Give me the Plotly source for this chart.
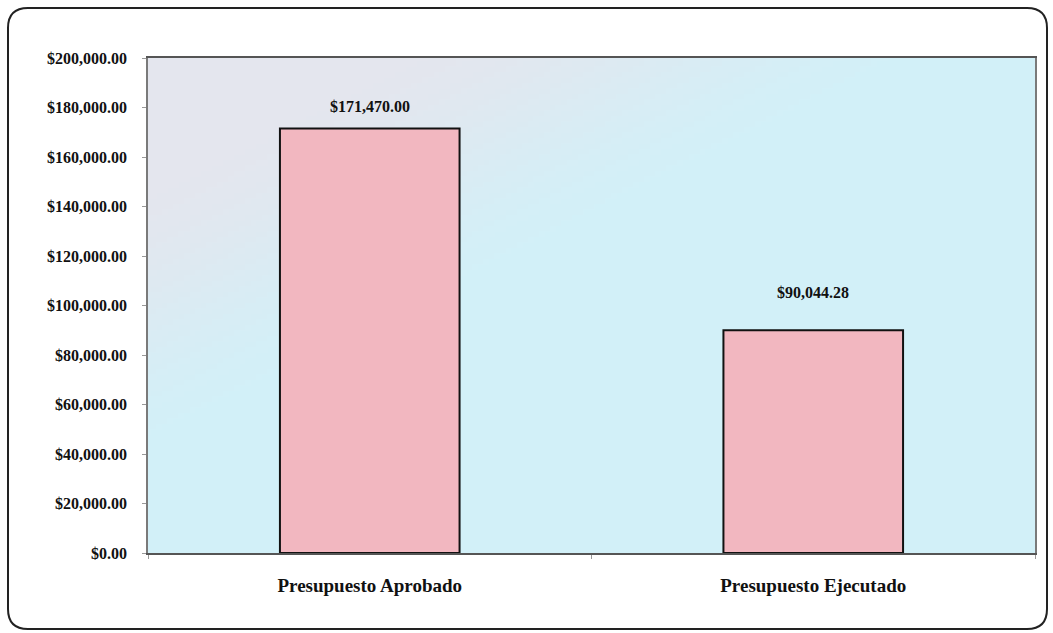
import base64
import struct
import zlib

import plotly.graph_objects as go

# data
categories = ["Presupuesto Aprobado", "Presupuesto Ejecutado"]
amounts = [171470.00, 90044.28]
amount_labels = ["$171,470.00", "$90,044.28"]
y_ticks = [0, 20000, 40000, 60000, 80000, 100000, 120000, 140000, 160000, 180000, 200000]

FONT = "Liberation Serif"
W, H = 1053, 633
L, R, T, B = 148, 18, 58, 80
PW, PH = W - L - R, H - T - B


def gradient_png(w=160, h=90):
    """Soft grey-to-cyan background for the plot area (grey in the top-left)."""
    grey = (228, 230, 238)
    cyan = (210, 240, 248)
    rows = []
    for j in range(h):
        row = bytearray([0])
        for i in range(w):
            u, v = i / w, j / h
            t = min(max((u + 1.1 * v - 0.25) / 0.65, 0.0), 1.0)
            t = t * t * (3 - 2 * t)
            row += bytes(int(round(g * (1 - t) + c * t)) for g, c in zip(grey, cyan))
        rows.append(bytes(row))

    def chunk(tag, data):
        return struct.pack(">I", len(data)) + tag + data + struct.pack(">I", zlib.crc32(tag + data) & 0xffffffff)

    png = b"\x89PNG\r\n\x1a\n"
    png += chunk(b"IHDR", struct.pack(">IIBBBBB", w, h, 8, 2, 0, 0, 0))
    png += chunk(b"IDAT", zlib.compress(b"".join(rows), 9))
    png += chunk(b"IEND", b"")
    return "data:image/png;base64," + base64.b64encode(png).decode()


def px_x(p):
    return (p - L) / PW


def px_y(p):
    return (H - B - p) / PH


def rounded_frame(x0, y0, x1, y1, r):
    # pixel box -> paper path with rounded corners
    ax, bx = px_x(x0), px_x(x1)
    ay, by = px_y(y0), px_y(y1)
    rx, ry = r / PW, r / PH
    return (f"M{ax + rx},{ay} L{bx - rx},{ay} Q{bx},{ay} {bx},{ay - ry} "
            f"L{bx},{by + ry} Q{bx},{by} {bx - rx},{by} "
            f"L{ax + rx},{by} Q{ax},{by} {ax},{by + ry} "
            f"L{ax},{ay - ry} Q{ax},{ay} {ax + rx},{ay} Z")


fig = go.Figure()
fig.add_trace(go.Bar(
    x=categories,
    y=amounts,
    marker=dict(color="#F2B7C0", line=dict(color="#111111", width=2)),
    width=0.405,
    hoverinfo="skip",
))

label_shift = [22, 38]
for cat, val, txt, sh in zip(categories, amounts, amount_labels, label_shift):
    fig.add_annotation(
        x=cat, y=val, text=txt, showarrow=False, yshift=sh,
        font=dict(family=FONT, size=16, color="#111111", weight="bold"),
    )

fig.add_shape(
    type="path", xref="paper", yref="paper",
    path=rounded_frame(8, 8, 1047, 629, 20),
    line=dict(color="#222222", width=2),
    layer="above",
)

fig.update_layout(
    width=W, height=H,
    margin=dict(l=L, r=R, t=T, b=B),
    paper_bgcolor="white",
    plot_bgcolor="#d2f0f8",
    showlegend=False,
    images=[dict(
        source=gradient_png(), xref="paper", yref="paper",
        x=0, y=1, sizex=1, sizey=1, sizing="stretch",
        xanchor="left", yanchor="top", layer="below",
    )],
)

fig.update_yaxes(
    range=[0, 200000],
    tickvals=y_ticks,
    tickformat="$,.2f",
    showgrid=False,
    zeroline=False,
    showline=True, linecolor="#7a7a7a", linewidth=1.5, mirror=True,
    ticks="outside", ticklen=4, tickcolor="#999999",
    ticklabelstandoff=12,
    tickfont=dict(family=FONT, size=16, color="#111111", weight="bold"),
)
fig.update_xaxes(
    showgrid=False,
    showline=True, linecolor="#555555", linewidth=1.5, mirror=True,
    ticks="outside", tickson="boundaries", ticklen=4, tickcolor="#999999",
    ticklabelstandoff=14,
    tickfont=dict(family=FONT, size=19, color="#111111", weight="bold"),
)

# page has a default body margin which would push the figure off the window
fig.write_html("out.html", config={"displayModeBar": False},
               post_script="document.body.style.margin='0';")
